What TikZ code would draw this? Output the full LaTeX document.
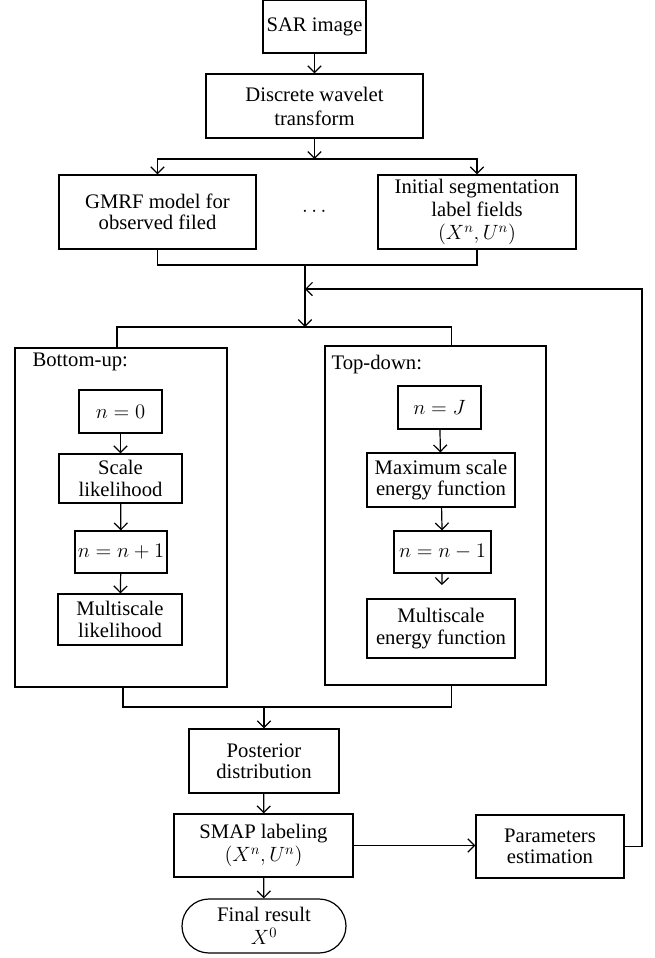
\RequirePackage{fix-cm}
\documentclass[tikz,border=0pt]{standalone}
\usepackage{fontspec}
\setmainfont{Liberation Serif}
\usepackage{amsmath}
\usepackage{tikz}
\usetikzlibrary{
  positioning,
  shapes.misc,
  arrows.meta
}

\tikzset{
  blk/.style={draw, align=center, inner sep=0pt, font=\fontsize{15.5}{16}\selectfont},
  mblk/.style={blk, font=\fontsize{15.5}{17.5}\selectfont},
  stagebox/.style={draw, inner sep=0pt},
  lbl/.style={anchor=west, inner sep=0pt, font=\fontsize{15.5}{16}\selectfont}
}

\begin{document}
\begin{tikzpicture}[x=0.75pt,y=-0.75pt,line width=0.9pt,>={Straight Barb[length=5pt,width=10pt]}]
            \useasboundingbox (0,0) rectangle (655,958);
            \node[blk, minimum width=77.25pt, minimum height=39.75pt] (sar) at (314.5,26.5) {SAR image};
            \node[blk, minimum width=162.75pt, minimum height=48pt, font=\fontsize{15.5}{18}\selectfont] (dwt) at (314.5,106) {Discrete wavelet\\transform};
            \node[blk, minimum width=147.75pt, minimum height=55.5pt] (gmrf) at (157.5,212) {GMRF model for\\observed filed};
            \node[mblk, minimum width=148.5pt, minimum height=55.5pt] (init) at (477,212) {Initial segmentation\\label fields\\$(X^n,U^n)$};
            \node[font=\fontsize{15.5}{16}\selectfont] (dots) at (316,212) {$\cdots$};
            \node[stagebox, minimum width=159pt, minimum height=254.25pt] (bu) at (121,517.5) {};
            \node[stagebox, minimum width=165.75pt, minimum height=254.25pt] (td) at (435.5,515.5) {};
            \node[lbl] (bulbl) at (32,362) {Bottom-up:};
            \node[lbl] (tdlbl) at (331,365) {Top-down:};
            \node[blk, minimum width=62.25pt, minimum height=32.25pt] (n0) at (120.5,411.5) {$n = 0$};
            \node[blk, minimum width=92.25pt, minimum height=36.75pt] (scale) at (120.5,478.5) {Scale\\likelihood};
            \node[blk, minimum width=69pt, minimum height=31.5pt] (np1) at (121,552) {$n = n + 1$};
            \node[blk, minimum width=93pt, minimum height=38.25pt] (msl) at (120,619.5) {Multiscale\\likelihood};
            \node[blk, minimum width=62.25pt, minimum height=32.25pt] (nJ) at (439.5,407.5) {$n = J$};
            \node[blk, minimum width=111pt, minimum height=40.5pt] (maxs) at (441,480) {Maximum scale\\energy function};
            \node[blk, minimum width=72.75pt, minimum height=31.5pt] (nm1) at (442.5,552) {$n = n - 1$};
            \node[blk, minimum width=111pt, minimum height=44.25pt] (mse) at (441,628.5) {Multiscale\\energy function};
            \node[blk, minimum width=112.5pt, minimum height=48pt] (post) at (264,761) {Posterior\\distribution};
            \node[mblk, minimum width=134.25pt, minimum height=47.25pt] (smap) at (263.5,845.5) {SMAP labeling\\$(X^n,U^n)$};
            \node[blk, minimum width=111pt, minimum height=47.25pt] (param) at (550,846.5) {Parameters\\estimation};
            \node[mblk, rounded rectangle, minimum width=123pt, minimum height=40.5pt] (final) at (264,926) {Final result\\$X^0$};
            \coordinate (split) at (314.5,159);
            \coordinate (merge) at (305,265);
            \coordinate (fb) at (305,289);
            \coordinate (split2) at (305,327);
            \coordinate (join) at (264,707);
            \coordinate (corner) at (642,289);
            \draw[->] (sar) -- (dwt);
            \draw[->] (dwt) -- (split);
            \draw[->] (split) -| (gmrf);
            \draw[->] (split) -| (init);
            \draw (gmrf) |- (merge) -| (init);
            \draw[->] (merge) -- (split2);
            \draw (split2) -| ([xshift=-3pt]bu.north);
            \draw (split2) -| ([xshift=12pt]td.north);
            \draw ([xshift=1.5pt]bu.south) |- (join);
            \draw ([xshift=12pt]td.south) |- (join);
            \draw[->] (join) -- (post);
            \draw[->] (n0) -- (scale);
            \draw[->] (scale) -- (np1);
            \draw[->] (np1) -- (msl);
            \draw[->] (nJ) -- (maxs);
            \draw[->] (maxs) -- (nm1);
            \draw[->, shorten >=10pt] (nm1) -- (mse);
            \draw[->] (post) -- (smap);
            \draw[->] (smap) -- (final);
            \draw[->] (smap.east) -- (smap.east -| param.west);
            \draw[->] (param) -| (corner) -- (fb);
        \end{tikzpicture}
\end{document}
